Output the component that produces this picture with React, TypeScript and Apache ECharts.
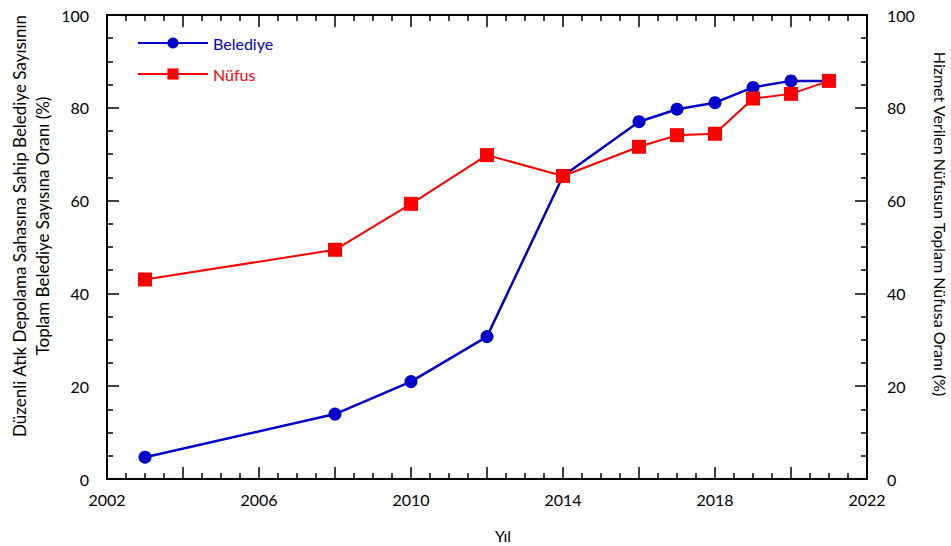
import React, { useEffect, useRef } from "react";
import * as echarts from "echarts";

// Survey years and the two coverage ratios (%)
const years = [2003, 2008, 2010, 2012, 2014, 2016, 2017, 2018, 2019, 2020, 2021];
const belediye = [4.7, 14.0, 21.0, 30.7, 65.3, 77.0, 79.7, 81.1, 84.4, 85.8, 85.8];
const nufus = [43.0, 49.4, 59.3, 69.8, 65.3, 71.6, 74.1, 74.4, 82.0, 83.0, 85.8];

// Year values that carry a label on the x axis
const yearLabels = [2002, 2006, 2010, 2014, 2018, 2022];

const seriesNames = ["Belediye", "Nüfus"];
const BLUE = "#0000cc";
const RED = "#ff0000";
const FONT = "Lato";

const pairs = (ys: number[]) => years.map((x, i) => [x, ys[i]]);

export default function App() {
  const ref = useRef<HTMLDivElement>(null);

  useEffect(() => {
    if (!ref.current) return;
    const chart = echarts.init(ref.current, undefined, { renderer: "svg" });

    const xAxisBase = {
      type: "value" as const,
      min: 2002,
      max: 2022,
      interval: 2,
      axisLine: { show: true, onZero: false, lineStyle: { color: "#000", width: 2 } },
      axisTick: { show: true, inside: true, length: 12, lineStyle: { color: "#000", width: 1.5 } },
      minorTick: { show: true, splitNumber: 4, length: 6, lineStyle: { color: "#000", width: 1.5 } },
      splitLine: { show: false },
      minorSplitLine: { show: false },
    };

    const yAxisBase = {
      type: "value" as const,
      min: 0,
      max: 100,
      interval: 20,
      axisLine: { show: true, onZero: false, lineStyle: { color: "#000", width: 2 } },
      axisTick: { show: true, inside: true, length: 12, lineStyle: { color: "#000", width: 1.5 } },
      minorTick: { show: true, splitNumber: 4, length: 6, lineStyle: { color: "#000", width: 1.5 } },
      splitLine: { show: false },
      minorSplitLine: { show: false },
      axisLabel: { color: "#000", fontFamily: FONT, fontSize: 16, margin: 18 },
    };

    chart.setOption({
      animation: false,
      backgroundColor: "#fff",
      grid: { left: 107, right: 84, top: 15, bottom: 67, containLabel: false },
      legend: {
        orient: "vertical",
        left: 137,
        top: 35,
        padding: 0,
        itemWidth: 70,
        itemHeight: 14,
        itemGap: 15,
        data: [
          { name: seriesNames[0], textStyle: { color: BLUE } },
          { name: seriesNames[1], textStyle: { color: RED } },
        ],
        textStyle: { fontFamily: FONT, fontSize: 16 },
      },
      xAxis: [
        {
          ...xAxisBase,
          position: "bottom",
          axisLabel: {
            color: "#000",
            fontFamily: FONT,
            fontSize: 16,
            margin: 12,
            formatter: (v: number) => (yearLabels.includes(v) ? String(v) : ""),
          },
        },
        { ...xAxisBase, position: "top", axisLabel: { show: false } },
      ],
      yAxis: [
        { ...yAxisBase, position: "left" },
        { ...yAxisBase, position: "right", axisLabel: { ...yAxisBase.axisLabel, margin: 20 } },
      ],
      series: [
        {
          name: seriesNames[0],
          type: "line",
          xAxisIndex: 0,
          yAxisIndex: 0,
          data: pairs(belediye),
          symbol: "circle",
          symbolSize: 13,
          itemStyle: { color: BLUE },
          lineStyle: { color: BLUE, width: 2.5 },
        },
        {
          name: seriesNames[1],
          type: "line",
          xAxisIndex: 0,
          yAxisIndex: 1,
          data: pairs(nufus),
          symbol: "rect",
          symbolSize: 14,
          itemStyle: { color: RED },
          lineStyle: { color: RED, width: 2 },
        },
      ],
      graphic: [
        {
          type: "text",
          x: 19,
          y: 226,
          rotation: Math.PI / 2,
          style: {
            text: "Düzenli Atık Depolama Sahasına Sahip Belediye Sayısının",
            fill: "#000",
            font: `17px ${FONT}`,
            textAlign: "center",
            textVerticalAlign: "middle",
          },
        },
        {
          type: "text",
          x: 42,
          y: 226,
          rotation: Math.PI / 2,
          style: {
            text: "Toplam Belediye Sayısına Oranı (%)",
            fill: "#000",
            font: `17px ${FONT}`,
            textAlign: "center",
            textVerticalAlign: "middle",
          },
        },
        {
          type: "text",
          x: 940,
          y: 224,
          rotation: -Math.PI / 2,
          style: {
            text: "Hizmet Verilen Nüfusun Toplam Nüfusa Oranı (%)",
            fill: "#000",
            font: `16px ${FONT}`,
            textAlign: "center",
            textVerticalAlign: "middle",
          },
        },
        {
          type: "text",
          x: 503,
          y: 535,
          style: {
            text: "Yıl",
            fill: "#000",
            font: `16px ${FONT}`,
            textAlign: "center",
            textVerticalAlign: "middle",
          },
        },
      ],
    });

    return () => chart.dispose();
  }, []);

  return (
    <div
      ref={ref}
      style={{ position: "fixed", left: 0, top: 0, width: 951, height: 546, background: "#fff" }}
    />
  );
}
